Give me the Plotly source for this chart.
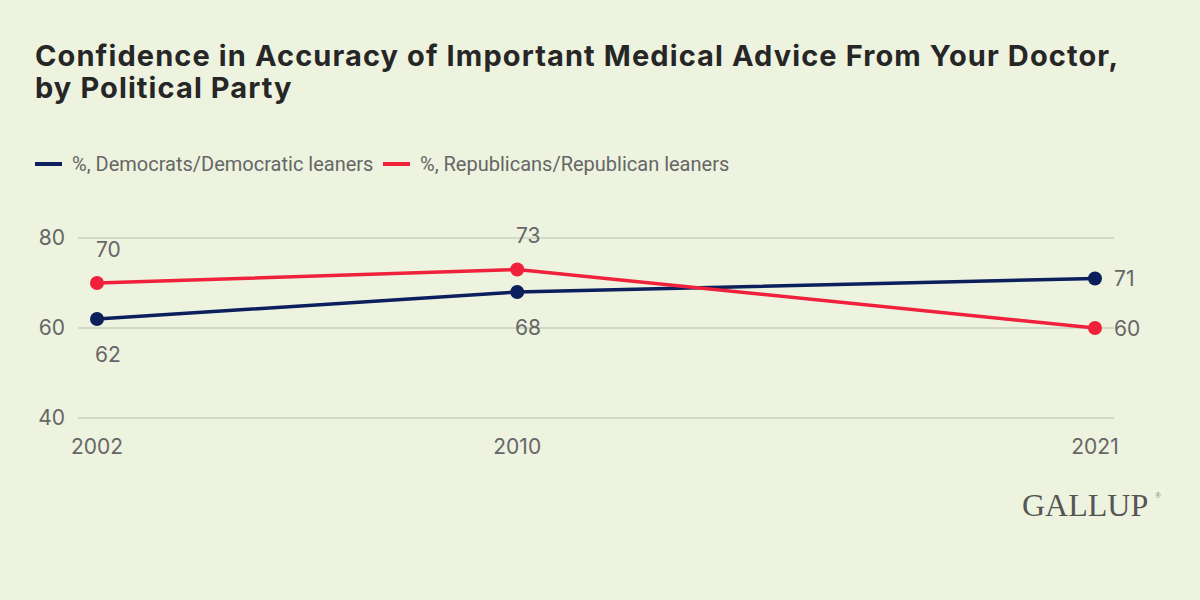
import plotly.graph_objects as go

years = [2002, 2010, 2021]
dem = [62, 68, 71]
rep = [70, 73, 60]
dem_name = "%, Democrats/Democratic leaners"
rep_name = "%, Republicans/Republican leaners"
y_ticks = [40, 60, 80]
x_ticks = [2002, 2010, 2021]
title_lines = ["Confidence in Accuracy of Important Medical Advice From Your Doctor,",
               "by Political Party"]

BG = "#EDF3DF"
BLUE = "#0A1F5C"
RED = "#F0213B"
GRAY = "#666666"
NUMFONT = "Inter, sans-serif"
TXTFONT = "Roboto, sans-serif"
NUM = 21

# pixel geometry of the plot area
L, R, T, B = 78, 1114, 234, 422
PW, PH = R - L, B - T
PAD = 4 * 40 / 180  # 4px of padding above/below the 40..80 range


def px(x):
    return (x - L) / PW


def py(y):
    return (B - y) / PH


fig = go.Figure()
fig.add_trace(go.Scatter(x=years, y=dem, mode="lines+markers", name=dem_name,
                         line=dict(color=BLUE, width=3.5), marker=dict(size=14, color=BLUE),
                         cliponaxis=False, showlegend=False, hoverinfo="skip"))
fig.add_trace(go.Scatter(x=years, y=rep, mode="lines+markers", name=rep_name,
                         line=dict(color=RED, width=3.5), marker=dict(size=14, color=RED),
                         cliponaxis=False, showlegend=False, hoverinfo="skip"))

annotations = []
# data labels
for i, (x, d, r) in enumerate(zip(years, dem, rep)):
    if i < len(years) - 1:
        top_is_rep = r >= d
        annotations.append(dict(x=x, y=r, text=str(r), showarrow=False, xref="x", yref="y",
                                xshift=11, yshift=34 if top_is_rep else -35,
                                font=dict(family=NUMFONT, size=NUM, color=GRAY)))
        annotations.append(dict(x=x, y=d, text=str(d), showarrow=False, xref="x", yref="y",
                                xshift=11, yshift=-35 if top_is_rep else 34,
                                font=dict(family=NUMFONT, size=NUM, color=GRAY)))
    else:
        for v in (d, r):
            annotations.append(dict(x=x, y=v, text=str(v), showarrow=False, xref="x", yref="y",
                                    xanchor="left", xshift=17,
                                    font=dict(family=NUMFONT, size=NUM, color=GRAY)))

# legend (custom)
shapes = []
for x0, x1, tx, col, name in [(35, 62, 70, BLUE, dem_name), (383, 410, 418, RED, rep_name)]:
    shapes.append(dict(type="line", xref="paper", yref="paper",
                       x0=px(x0), x1=px(x1), y0=py(164), y1=py(164),
                       line=dict(color=col, width=4)))
    annotations.append(dict(x=px(tx), y=py(164), xref="paper", yref="paper",
                            text=name, showarrow=False, xanchor="left", yanchor="middle",
                            font=dict(family=TXTFONT, size=20, color=GRAY)))

# title (two lines)
for line, top in zip(title_lines, [36, 68]):
    annotations.append(dict(x=px(33), y=py(top), xref="paper", yref="paper",
                            text="<b><span style='letter-spacing:1.1px'>" + line + "</span></b>",
                            showarrow=False, xanchor="left", yanchor="top", align="left",
                            font=dict(family=NUMFONT, size=29, color="#262626")))
# logo
annotations.append(dict(x=px(1150), y=py(505), xref="paper", yref="paper",
                        text="GALLUP", showarrow=False,
                        xanchor="right", yanchor="middle",
                        font=dict(family="Liberation Serif, serif", size=32, color="#555555")))
annotations.append(dict(x=px(1153), y=py(495), xref="paper", yref="paper",
                        text="®", showarrow=False,
                        xanchor="left", yanchor="middle",
                        font=dict(family="Liberation Serif, serif", size=8, color="#777777")))

fig.update_layout(
    width=1200, height=600,
    paper_bgcolor=BG, plot_bgcolor=BG,
    margin=dict(l=L, r=1200 - R, t=T, b=600 - B),
    showlegend=False,
    annotations=annotations,
    shapes=shapes,
    xaxis=dict(range=[2002 - 19 / 52.5, 2021 + 19 / 52.5], tickvals=x_ticks,
               showgrid=False, zeroline=False, showline=False,
               tickfont=dict(family=NUMFONT, size=NUM, color=GRAY), ticklabelstandoff=10),
    yaxis=dict(range=[40 - PAD, 80 + PAD], tickvals=y_ticks, showgrid=True,
               gridcolor="#D2D9C6", gridwidth=2, zeroline=False, showline=False,
               tickfont=dict(family=NUMFONT, size=NUM, color=GRAY), ticklabelstandoff=12),
)

fig.write_html("out.html")
